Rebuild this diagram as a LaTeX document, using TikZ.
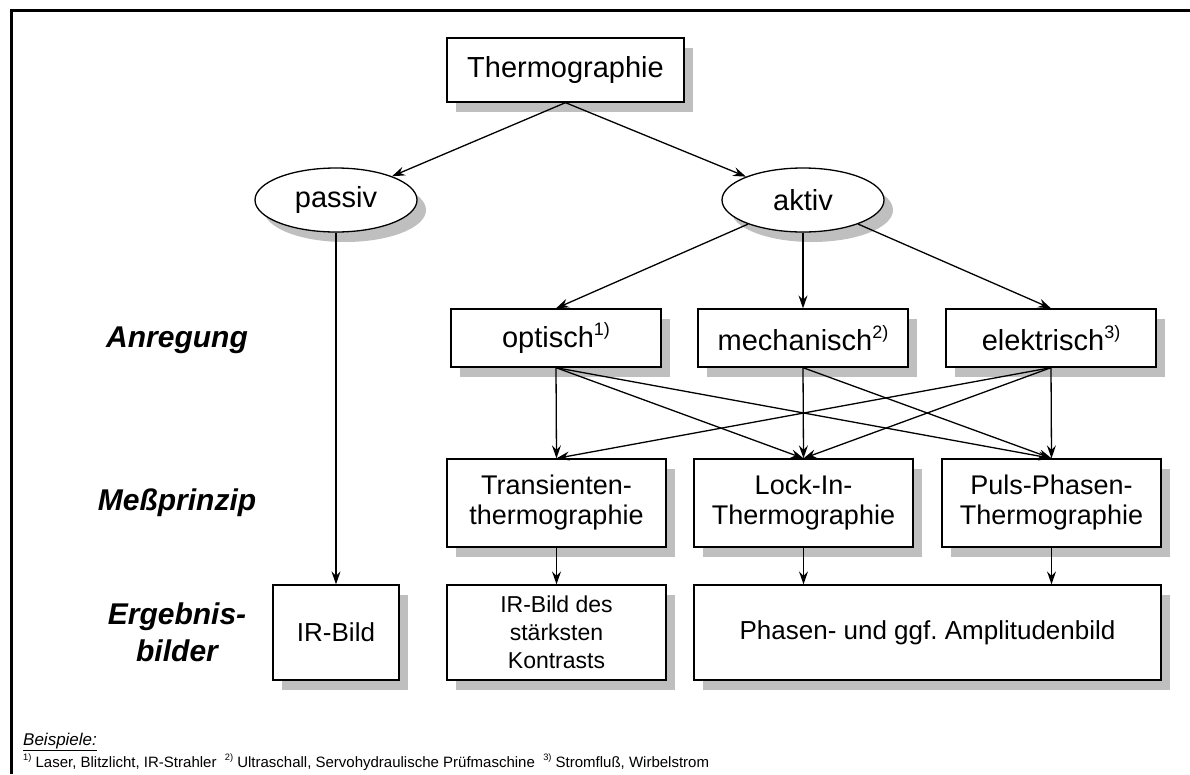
\documentclass[tikz,border=0pt]{standalone}
\usepackage{fontspec}
\setmainfont{Liberation Sans}
\usetikzlibrary{shapes.geometric,shadows,arrows.meta}

\newcommand{\hoch}[1]{\raisebox{.42em}{\scalebox{.62}{#1}}}

\begin{document}
\begin{tikzpicture}[x=1pt,y=-1pt]
  \tikzstyle{b} = [draw, fill=white, line width=1.3pt, inner sep=0pt, align=center,
  drop shadow={shadow xshift=9pt, shadow yshift=-10pt, fill=black!25, opacity=1},
  font=\fontsize{29}{34}\selectfont];
  \tikzstyle{e} = [b, ellipse, minimum width=162pt, minimum height=64pt];
  \tikzstyle{m} = [b, minimum width=219pt, minimum height=88pt,
  font=\fontsize{27}{30}\selectfont];
  \tikzstyle{r} = [b, minimum height=95pt, font=\fontsize{26}{30}\selectfont];
  \tikzstyle{a} = [line width=1.3pt, -{Stealth[length=13pt,width=9pt,inset=4.5pt]}];
  \tikzstyle{l} = [align=center, font=\fontsize{30}{37}\selectfont\bfseries\itshape];

  \useasboundingbox (0,0) rectangle (1190,774);
  \draw[line width=3pt] (11.5,774) |- (1190,10.5);

  \node[b, minimum width=237pt, minimum height=64pt] (thermo) at (565.5,70) {Thermographie};

  \node[e] (passiv) at (336,200) {passiv};
  \node[e] (aktiv) at (803,200) {aktiv};

  \node[b, minimum width=210pt, minimum height=58pt] (opt) at (556,338) {optisch\hoch{1)}};
  \node[b, minimum width=210pt, minimum height=58pt] (mech) at (803,338) {mechanisch\hoch{2)}};
  \node[b, minimum width=210pt, minimum height=58pt] (elek) at (1051,338) {elektrisch\hoch{3)}};

  \node[m] (trans) at (556.5,503) {Transienten-\\thermographie};
  \node[m] (lockin) at (803.5,503) {Lock-In-\\Thermographie};
  \node[m] (puls) at (1051.5,503) {Puls-Phasen-\\Thermographie};

  \node[r, minimum width=126pt] (irb) at (336,632.5) {IR-Bild};
  \node[r, minimum width=219pt, font=\fontsize{23}{28}\selectfont] (irbk) at (556.5,632.5)
  {IR-Bild des\\stärksten\\Kontrasts};
  \node[r, minimum width=467pt] (phas) at (927.5,632.5) {Phasen- und ggf.\ Amplitudenbild};

  \node[l] (anr) at (177,340) {Anregung};
  \node[l] (mess) at (177,503) {Meßprinzip};
  \node[l] (erg) at (177,632) {Ergebnis-\\bilder};

  \node[anchor=base west, inner sep=0pt, font=\fontsize{17}{20}\selectfont] (bsp) at (23,745)
  {\underline{\textit{Beispiele:}}};
  \node[anchor=base west, inner sep=0pt, font=\fontsize{15}{18}\selectfont] (fn) at (23,767)
  {\hoch{1)} Laser, Blitzlicht, IR-Strahler\ \ \hoch{2)} Ultraschall, Servohydraulische Prüfmaschine\ \ \hoch{3)} Stromfluß, Wirbelstrom};

  \draw[a] (thermo.south) to (passiv);
  \draw[a] (thermo.south) to (aktiv);

  \draw[a] (aktiv) to (opt.north);
  \draw[a] (aktiv) to (mech.north);
  \draw[a] (aktiv) to (elek.north);

  \draw[a] (opt.south) to (trans.north);
  \draw[a] (opt.south) to (lockin.north);
  \draw[a] (opt.south) to (puls.north);
  \draw[a] (mech.south) to (lockin.north);
  \draw[a] (mech.south) to (puls.north);
  \draw[a] (elek.south) to (puls.north);
  \draw[a] (elek.south) to (lockin.north);
  \draw[a] (elek.south) to (trans.north);

  \draw[a] (passiv) to (irb.north);
  \draw[a] (trans.south) to (irbk.north);
  \draw[a] (lockin.south) to (lockin.south |- phas.north);
  \draw[a] (puls.south) to (puls.south |- phas.north);
\end{tikzpicture}
\end{document}
